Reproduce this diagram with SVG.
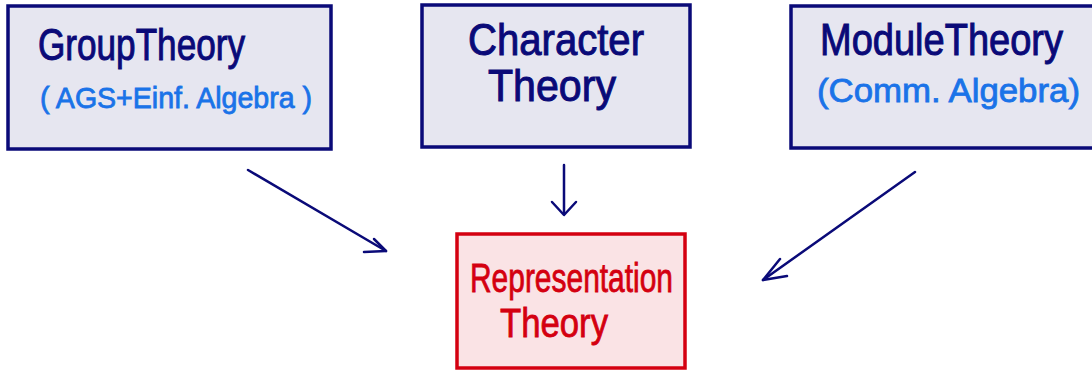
<svg xmlns="http://www.w3.org/2000/svg" width="1092" height="371" viewBox="0 0 1092 371">
<style>
.box{fill:#e6e6f0;stroke:#0a0a78;stroke-width:3.5}
.rbox{fill:#fae3e5;stroke:#d40010;stroke-width:3.5}
.t{font-family:"Liberation Sans",Arial,sans-serif;fill:#0a0a78;stroke:#0a0a78;stroke-width:1}
.s{font-family:"Liberation Sans",Arial,sans-serif;fill:#1a73e8;stroke:#1a73e8;stroke-width:0.8}
.r{font-family:"Liberation Sans",Arial,sans-serif;fill:#d40010;stroke:#d40010;stroke-width:0.8}
.c{fill:none;stroke:#0a0a78;stroke-width:2.5;stroke-linecap:round;stroke-linejoin:round}
</style>
<rect width="1092" height="371" fill="#ffffff"/>
<g id="group-theory">
<rect class="box" x="8" y="6" width="323" height="143"/>
<text class="t" x="38" y="60" font-size="44" textLength="207" lengthAdjust="spacingAndGlyphs">GroupTheory</text>
<text class="s" x="40" y="108" font-size="29" textLength="272" lengthAdjust="spacingAndGlyphs">( AGS+Einf. Algebra )</text>
</g>
<g id="character-theory">
<rect class="box" x="422" y="5" width="268" height="142"/>
<text class="t" x="468" y="55" font-size="45" textLength="176" lengthAdjust="spacingAndGlyphs">Character</text>
<text class="t" x="488" y="101" font-size="45" textLength="128" lengthAdjust="spacingAndGlyphs">Theory</text>
</g>
<g id="module-theory">
<rect class="box" x="791" y="6" width="310" height="142"/>
<text class="t" x="820" y="55" font-size="44" textLength="243" lengthAdjust="spacingAndGlyphs">ModuleTheory</text>
<text class="s" x="817" y="102" font-size="33" textLength="263" lengthAdjust="spacingAndGlyphs">(Comm. Algebra)</text>
</g>
<g id="representation-theory">
<rect class="rbox" x="457" y="234" width="228" height="134"/>
<text class="r" x="470" y="292" font-size="40" textLength="203" lengthAdjust="spacingAndGlyphs">Representation</text>
<text class="r" x="500" y="337" font-size="40" textLength="108" lengthAdjust="spacingAndGlyphs">Theory</text>
</g>
<g id="connectors">
<path class="c" d="M248 170 L386 251"/>
<path class="c" d="M374 239 L386 251 L364 252"/>
<path class="c" d="M564 165 L564 214"/>
<path class="c" d="M552 202 L564 215 L576 202"/>
<path class="c" d="M915 172 L763 280"/>
<path class="c" d="M780 259 L763 280 L787 276"/>
</g>
</svg>
